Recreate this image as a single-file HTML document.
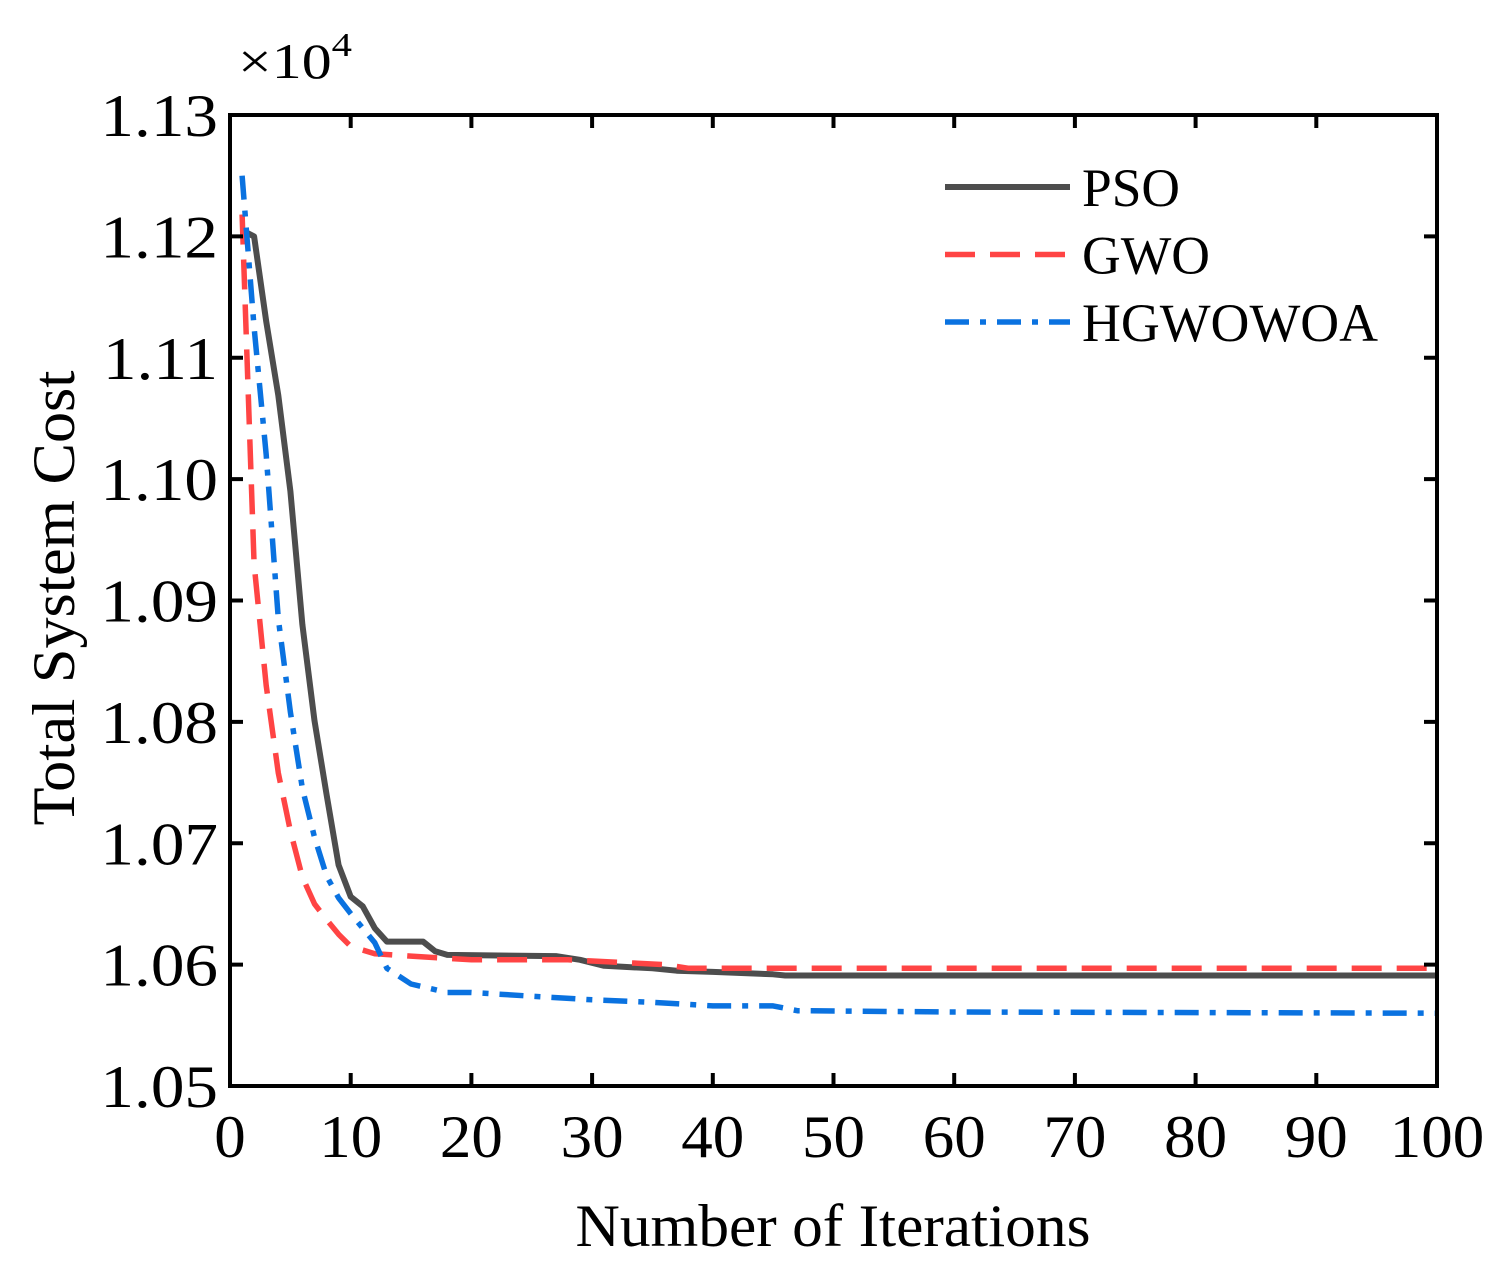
<!DOCTYPE html>
<html><head><meta charset="utf-8"><style>
html,body{margin:0;padding:0;background:#fff}
svg text{font-family:"Liberation Serif",serif;fill:#000}
</style></head><body>
<svg id="chart" width="1505" height="1280" viewBox="0 0 1505 1280" xmlns="http://www.w3.org/2000/svg">
<g id="series"></g>
<rect x="230" y="115" width="1207" height="971" fill="none" stroke="#000" stroke-width="4"/>
<g id="axes"></g>
<text x="238" y="78" font-size="50" textLength="114" lengthAdjust="spacingAndGlyphs">×10<tspan dy="-22" font-size="34">4</tspan></text>
<text transform="translate(74,598) rotate(-90)" text-anchor="middle" font-size="60" textLength="455" lengthAdjust="spacingAndGlyphs">Total System Cost</text>
<text x="833" y="1246" text-anchor="middle" font-size="60" textLength="515" lengthAdjust="spacingAndGlyphs">Number of Iterations</text>
<g id="legend"></g>
</svg>
<script>
const xTicks = [0,10,20,30,40,50,60,70,80,90,100];
const yTicks = [1.05,1.06,1.07,1.08,1.09,1.10,1.11,1.12,1.13];
const yTickLabels = ["1.05","1.06","1.07","1.08","1.09","1.10","1.11","1.12","1.13"];
const seriesNames = ["PSO","GWO","HGWOWOA"];
const psoIter = [1,2,3,4,5,6,7,8,9,10,11,12,13,16,17,18,27,29,31,35,37,40,45,46,100];
const psoCost = [1.1205,1.1200,1.1130,1.1069,1.0990,1.0880,1.0801,1.0740,1.0682,1.0656,1.0648,1.0630,1.0619,1.0619,1.0611,1.0608,1.0607,1.0604,1.0599,1.0597,1.0595,1.0594,1.0592,1.0591,1.0591];
const gwoIter = [1,2,3,4,5,6,7,8,9,10,12,15,20,28,30,36,38,100];
const gwoCost = [1.1218,1.0930,1.0830,1.0758,1.0710,1.0672,1.0650,1.0637,1.0625,1.0615,1.0609,1.0607,1.0604,1.0604,1.0603,1.0600,1.0597,1.0597];
const hIter = [1,2,3,4,5,6,7,8,9,10,11,12,13,15,18,20,25,30,35,40,45,47,60,100];
const hCost = [1.1250,1.1125,1.1020,1.0885,1.0808,1.0745,1.0705,1.0673,1.0655,1.0642,1.0630,1.0618,1.0597,1.0584,1.0577,1.0577,1.0574,1.0571,1.0569,1.0566,1.0566,1.0562,1.0561,1.0560];

const NS="http://www.w3.org/2000/svg";
const X0=230,X1=1437,Y0=1086,Y1=115;
function xs(v){return X0+(v-0)/(100-0)*(X1-X0);}
function ys(v){return Y0-(v-1.05)/(1.13-1.05)*(Y0-Y1);}
function mk(tag,attrs,parent){const e=document.createElementNS(NS,tag);for(const k in attrs)e.setAttribute(k,attrs[k]);parent.appendChild(e);return e;}
const axes=document.getElementById('axes');
xTicks.forEach((t,i)=>{
  const x=xs(t);
  const a=mk('line',{x1:x,y1:Y0,x2:x,y2:Y0-13,stroke:'#000','stroke-width':4},axes);
  
  
  const b=mk('line',{x1:x,y1:Y1,x2:x,y2:Y1+13,stroke:'#000','stroke-width':4},axes);
  
  
  const tx=mk('text',{x:0,y:0,'text-anchor':'middle','font-size':60,transform:'translate('+x+',1157) scale(1.05,1)'},axes);
  tx.textContent=String(t);
  
  
});
yTicks.forEach((t,i)=>{
  const y=ys(t);
  const a=mk('line',{x1:X0,y1:y,x2:X0+13,y2:y,stroke:'#000','stroke-width':4},axes);
  
  
  const b=mk('line',{x1:X1,y1:y,x2:X1-13,y2:y,stroke:'#000','stroke-width':4},axes);
  
  
  const tx=mk('text',{x:0,y:0,'text-anchor':'end','font-size':60,transform:'translate(218,'+(y+21)+') scale(1.12,1)'},axes);
  tx.textContent=yTickLabels[i];
  
  
});
const styles=[
  {stroke:'#4d4d4d',dash:'',w:6},
  {stroke:'#ff4444',dash:'30 15',w:5.5},
  {stroke:'#0a72e0',dash:'24 11 6 11',w:5.5}
];
const sg=document.getElementById('series');
[[psoIter,psoCost],[gwoIter,gwoCost],[hIter,hCost]].forEach((s,k)=>{
  const d=s[0].map((it,i)=>(i?'L':'M')+xs(it).toFixed(1)+','+ys(s[1][i]).toFixed(1)).join(' ');
  const p=mk('path',{d:d,fill:'none',stroke:styles[k].stroke,'stroke-width':styles[k].w,'stroke-dasharray':styles[k].dash,'stroke-linejoin':'round'},sg);
  
  
});
const legendWidths=[98,128,296];
const lg=document.getElementById('legend');
seriesNames.forEach((n,k)=>{
  const y=187+k*67.5;
  const g=mk('g',{},lg);
  
  
  mk('line',{x1:945,y1:y,x2:1070,y2:y,stroke:styles[k].stroke,'stroke-width':styles[k].w,'stroke-dasharray':styles[k].dash},g);
  const t=mk('text',{x:1082,y:y+19,'font-size':54,textLength:legendWidths[k],lengthAdjust:'spacingAndGlyphs'},g);
  t.textContent=n;
});
</script>
</body></html>
